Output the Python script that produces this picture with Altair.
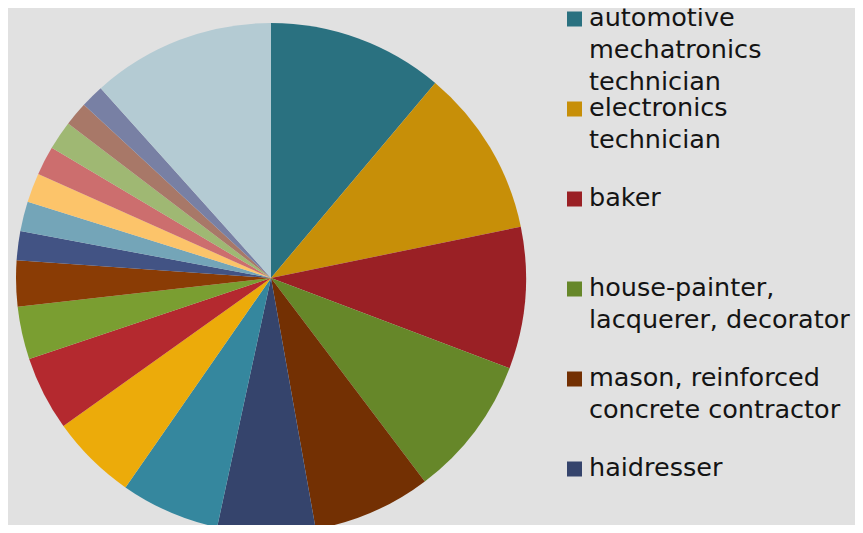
import altair as alt
import pandas as pd

# slice shares (degrees of the full circle), clockwise from 12 o'clock
names = [
    "automotive mechatronics technician",
    "electronics technician",
    "baker",
    "house-painter, lacquerer, decorator",
    "mason, reinforced concrete contractor",
    "haidresser",
    "category 7", "category 8", "category 9", "category 10", "category 11",
    "category 12", "category 13", "category 14", "category 15", "category 16",
    "category 17", "category 18", "category 19",
]
values = [40.1, 38.3, 32.3, 32.2, 27.0, 22.3, 22.6, 19.7, 17.0, 12.0, 10.5,
          6.6, 6.8, 6.7, 6.6, 6.6, 5.5, 5.3, 41.9]
colors = ["#2a7180", "#c78f08", "#9a2025", "#668729", "#733003", "#35446c",
          "#35879e", "#ecab0a", "#b4292f", "#7a9e31", "#8a3c05", "#425384",
          "#74a5b8", "#fcc46a", "#cc6e6e", "#9fb873", "#a87868", "#7880a4",
          "#b4cbd3"]

# visible legend entries (legend is cut off after six)
legend_labels = [
    "automotive\nmechatronics\ntechnician",
    "electronics\ntechnician",
    "baker",
    "house-painter,\nlacquerer, decorator",
    "mason, reinforced\nconcrete contractor",
    "haidresser",
]

pie_df = pd.DataFrame({"name": names, "value": values, "idx": list(range(len(names)))})
leg_df = pd.DataFrame({
    "name": names[:6],
    "label": legend_labels,
    "slot": list(range(6)),
})

color_scale = alt.Scale(domain=names, range=colors)

pie = alt.Chart(pie_df).mark_arc(outerRadius=255).encode(
    theta=alt.Theta("value:Q", stack=True),
    color=alt.Color("name:N", scale=color_scale, legend=None),
    order=alt.Order("idx:Q"),
    x=alt.value(263),
    y=alt.value(270),
)

yscale = alt.Scale(domain=[0, 5], range=[11, 461])

squares = alt.Chart(leg_df).mark_square(size=225, opacity=1, strokeWidth=0).encode(
    y=alt.Y("slot:Q", scale=yscale, axis=None),
    x=alt.value(566.5),
    color=alt.Color("name:N", scale=color_scale, legend=None),
)

texts = alt.Chart(leg_df).mark_text(
    align="left", baseline="line-top", lineBreak="\n", lineHeight=32,
    fontSize=25.5, font="DejaVu Sans", color="#141414", dy=-16,
).encode(
    y=alt.Y("slot:Q", scale=yscale, axis=None),
    x=alt.value(581),
    text="label:N",
)

chart = alt.layer(pie, squares, texts).properties(
    width=847, height=517, autosize="none", padding=0, background="#e1e1e1",
).configure_view(stroke=None)

chart.save("out.html", embed_options={"renderer": "svg", "actions": False})
